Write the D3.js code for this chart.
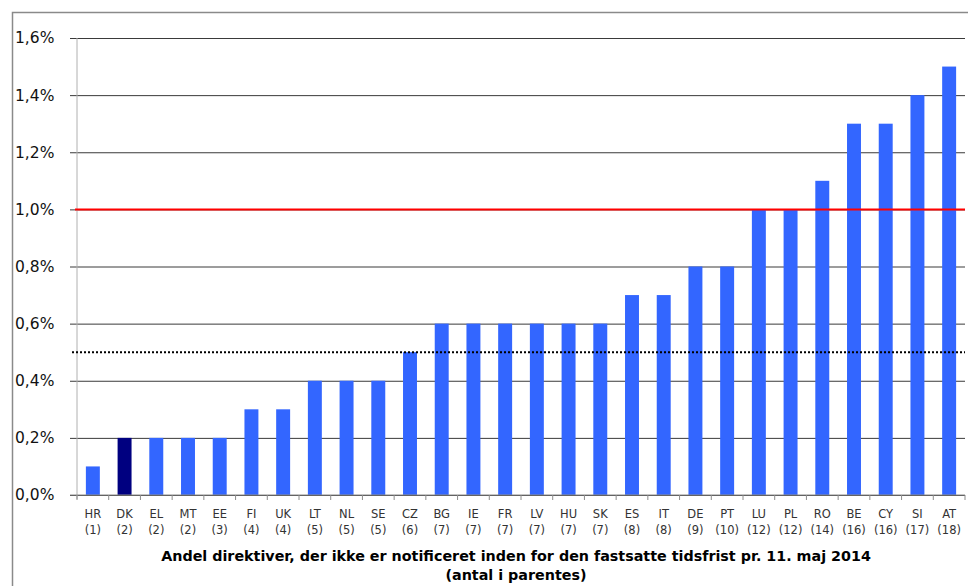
<!DOCTYPE html>
<html lang="da">
<head>
<meta charset="UTF-8">
<title>Andel direktiver</title>
<style>
body { margin: 0; background: #fff; }
svg text { font-family: Verdana, "DejaVu Sans", sans-serif; }
.axis--y .domain { stroke: none; }
.axis--y .tick line { stroke: #3a3a3a; stroke-width: 1; }
.axis--y .tick text { font-size: 15.5px; fill: #111; }
</style>
</head>
<body>
<script src="https://cdn.jsdelivr.net/npm/d3@7/dist/d3.min.js"></script>
<script>
var countries = ["HR","DK","EL","MT","EE","FI","UK","LT","NL","SE","CZ","BG","IE","FR","LV","HU","SK","ES","IT","DE","PT","LU","PL","RO","BE","CY","SI","AT"]
var counts = [1,2,2,2,3,4,4,5,5,5,6,7,7,7,7,7,7,8,8,9,10,12,12,14,16,16,17,18]
var shares = [0.1,0.2,0.2,0.2,0.2,0.3,0.3,0.4,0.4,0.4,0.5,0.6,0.6,0.6,0.6,0.6,0.6,0.7,0.7,0.8,0.8,1.0,1.0,1.1,1.3,1.3,1.4,1.5]
var yTicks = [0,0.2,0.4,0.6,0.8,1.0,1.2,1.4,1.6]
var target = 1.0
var average = 0.5
var highlight = "DK"
var titleLines = ["Andel direktiver, der ikke er notificeret inden for den fastsatte tidsfrist pr. 11. maj 2014", "(antal i parentes)"]

var data = countries.map(function (c, i) {
  return {c: c, n: counts[i], v: shares[i]}
})

var W = 968, H = 586
var margin = {top: 38, right: 3, bottom: 91, left: 77},
    width = W - margin.left - margin.right,
    height = H - margin.top - margin.bottom

var svg = d3.select("body").append("svg")
    .attr("width", W)
    .attr("height", H)

// outer frame
svg.append("rect")
    .attr("x", 12.5).attr("y", 12.5)
    .attr("width", W + 20).attr("height", H + 20)
    .attr("fill", "none")
    .attr("stroke", "#8a8a8a")
    .attr("stroke-width", 1.5)

var g = svg.append("g")
    .attr("transform", "translate(" + margin.left + "," + margin.top + ")")

var x = d3.scaleBand()
    .domain(countries)
    .range([0, width])
    .paddingInner(0.56)
    .paddingOuter(0.28)

var xb = d3.scaleBand().domain(countries).range([0, width])

var y = d3.scaleLinear()
    .domain([0, 1.6])
    .range([height, 0])

var fmt = function (d) { return d3.format(".1f")(d).replace(".", ",") + "%" }

var yAxis = g.append("g")
    .attr("class", "axis axis--y")
    .call(d3.axisLeft(y).tickValues(yTicks).tickFormat(fmt).tickSize(-width - 7))
yAxis.selectAll(".tick line").attr("transform", "translate(-7,0)")
yAxis.selectAll(".tick text").attr("x", -62).attr("text-anchor", "start")

// y axis line
g.append("line")
    .attr("x1", 0).attr("x2", 0)
    .attr("y1", 0).attr("y2", height + 4)
    .attr("stroke", "#b0b0b0")

// bars
g.append("g").selectAll("rect")
    .data(data)
    .enter().append("rect")
    .attr("x", function (d) { return x(d.c) })
    .attr("width", x.bandwidth())
    .attr("y", function (d) { return y(d.v) })
    .attr("height", function (d) { return height - y(d.v) })
    .attr("fill", function (d) { return d.c === highlight ? "#000080" : "#3366ff" })

// x axis with ticks at band boundaries
var xAxis = g.append("g")
    .attr("class", "axis axis--x")
    .attr("transform", "translate(0," + height + ")")
xAxis.append("line")
    .attr("x1", -7).attr("x2", width)
    .attr("stroke", "#8c8c8c")
xAxis.selectAll(".tk")
    .data(countries.concat(["_end"]))
    .enter().append("line")
    .attr("x1", function (d, i) { return i * xb.step() })
    .attr("x2", function (d, i) { return i * xb.step() })
    .attr("y1", 0).attr("y2", 5)
    .attr("stroke", "#8c8c8c")

var lab = xAxis.selectAll(".lab")
    .data(data)
    .enter().append("text")
    .attr("text-anchor", "middle")
    .attr("font-size", "11.5px")
    .attr("fill", "#333")
lab.append("tspan")
    .attr("x", function (d) { return xb(d.c) + xb.bandwidth() / 2 })
    .attr("y", 23)
    .text(function (d) { return d.c })
lab.append("tspan")
    .attr("x", function (d) { return xb(d.c) + xb.bandwidth() / 2 })
    .attr("y", 39)
    .text(function (d) { return "(" + d.n + ")" })

// reference lines
g.append("line")
    .attr("x1", -2).attr("x2", width)
    .attr("y1", y(target)).attr("y2", y(target))
    .attr("stroke", "#ff0000")
    .attr("stroke-width", 2)

g.append("line")
    .attr("x1", -5).attr("x2", width)
    .attr("y1", y(average)).attr("y2", y(average))
    .attr("stroke", "#000")
    .attr("stroke-width", 2)
    .attr("stroke-dasharray", "2,2")

// title
svg.selectAll(".ttl")
    .data(titleLines)
    .enter().append("text")
    .attr("x", 516)
    .attr("y", function (d, i) { return 561 + i * 19 })
    .attr("text-anchor", "middle")
    .attr("font-size", "14.3px")
    .attr("font-weight", "bold")
    .attr("fill", "#000")
    .text(function (d) { return d })
</script>
</body>
</html>
